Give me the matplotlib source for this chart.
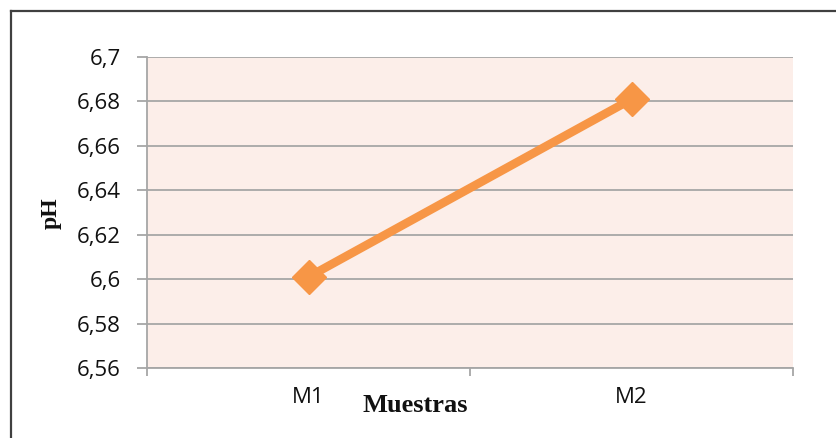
import matplotlib
matplotlib.use("Agg")
import matplotlib.pyplot as plt
from matplotlib.lines import Line2D

# Data
muestras = ["M1", "M2"]
ph_values = [6.601, 6.681]
y_ticks = [6.56, 6.58, 6.60, 6.62, 6.64, 6.66, 6.68, 6.70]
y_tick_labels = ["6,56", "6,58", "6,6", "6,62", "6,64", "6,66", "6,68", "6,7"]

W, H = 836, 438
fig = plt.figure(figsize=(W / 100, H / 100), dpi=100)
fig.patch.set_facecolor("white")

ax = fig.add_axes([147 / W, 1 - 368 / H, (793 - 147) / W, (368 - 57) / H])
ax.set_facecolor("#FCEEE9")

x = list(range(len(muestras)))
ax.plot(x, ph_values, color="#F79646", linewidth=6.2, marker="D",
        markersize=17, markeredgecolor="#F79646", solid_capstyle="butt",
        zorder=3, clip_on=False)

ax.set_xlim(-0.5, len(muestras) - 0.5)
ax.set_ylim(y_ticks[0], y_ticks[-1])

ax.set_yticks(y_ticks)
ax.set_yticklabels(y_tick_labels)
ax.yaxis.grid(True, color="#A6A6A6", linewidth=1.3)
ax.set_axisbelow(True)

# category ticks sit on the boundaries between categories
ax.set_xticks([i - 0.5 for i in range(len(muestras) + 1)])
ax.set_xticklabels([])
ax.set_xticks(x, minor=True)
ax.set_xticklabels(muestras, minor=True)
ax.tick_params(axis="x", which="minor", length=0, pad=14)
ax.tick_params(axis="x", which="major", length=6, width=1.3, color="#A6A6A6",
               direction="out")
ax.tick_params(axis="y", length=7, width=1.3, color="#A6A6A6", pad=12)

for lbl in ax.get_yticklabels() + ax.get_xticklabels(minor=True):
    lbl.set_fontfamily("Open Sans")
    lbl.set_fontsize(16)
    lbl.set_color("#111111")

for side in ["top", "right"]:
    ax.spines[side].set_visible(False)
for side in ["left", "bottom"]:
    ax.spines[side].set_color("#A6A6A6")
    ax.spines[side].set_linewidth(1.3)

fig.text(415 / W, 1 - 406 / H, "Muestras", ha="center", va="center",
         fontfamily="Liberation Serif", fontweight="bold", fontsize=19,
         color="#111111")
fig.text(51 / W, 1 - 213 / H, "pH", ha="center", va="center", rotation=90,
         fontfamily="Liberation Serif", fontweight="bold", fontsize=17,
         color="#111111")

# outer chart frame (left and top edges)
fig.add_artist(Line2D([11 / W, 11 / W], [0, 1 - 11 / H], transform=fig.transFigure,
                      color="#404040", linewidth=1.6))
fig.add_artist(Line2D([11 / W, 1], [1 - 11 / H, 1 - 11 / H], transform=fig.transFigure,
                      color="#404040", linewidth=1.6))

fig.savefig("out.png", dpi=100)
